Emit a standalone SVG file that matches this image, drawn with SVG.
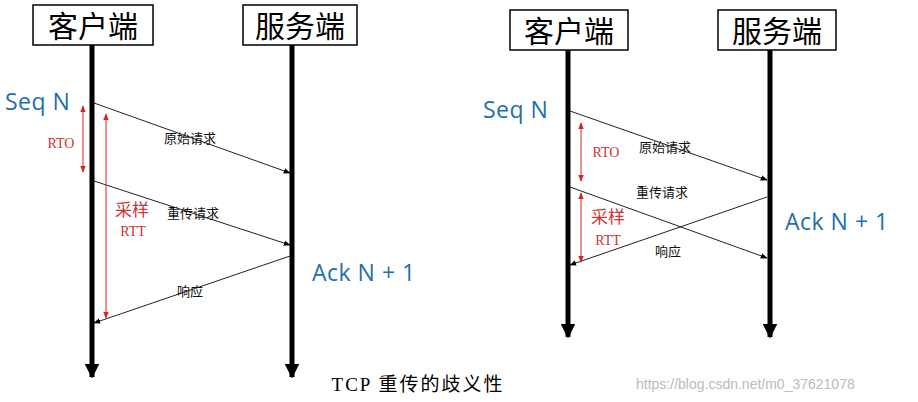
<svg xmlns="http://www.w3.org/2000/svg" width="918" height="402" viewBox="0 0 918 402">
<style>
.box{fill:#fff;stroke:#000;stroke-width:1.5}
.h{font-family:"Noto Sans CJK SC",sans-serif;font-size:30px;text-anchor:middle}
.life{stroke:#000;stroke-width:5}
.msg{stroke:#222;stroke-width:1;fill:none}
.red{stroke:#d22;stroke-width:1;fill:none}
.lab{font-family:"Noto Sans CJK SC",sans-serif;font-size:13px;text-anchor:middle;fill:#111}
.blue{font-family:"Open Sans","Noto Sans",sans-serif;font-size:23px;fill:#1d6fae;letter-spacing:0.5px}
.rt{font-family:"Liberation Serif","Noto Sans CJK SC",serif;font-size:14px;fill:#c33;text-anchor:middle}
.rtc{font-family:"Noto Sans CJK SC",serif;font-size:17px;fill:#c33;text-anchor:middle}
</style>
<defs>
<marker id="ab" viewBox="0 0 10 10" refX="9" refY="5" markerWidth="7" markerHeight="7" orient="auto"><path d="M0,1 L10,5 L0,9z" fill="#000"/></marker>
<marker id="big" viewBox="0 0 10 10" refX="9" refY="5" markerWidth="3" markerHeight="3" orient="auto"><path d="M0,0 L10,5 L0,10z" fill="#000"/></marker>
<marker id="rd" viewBox="0 0 10 10" refX="9" refY="5" markerWidth="7" markerHeight="7" orient="auto-start-reverse"><path d="M0,1 L10,5 L0,9z" fill="#d22"/></marker>
</defs>
<rect width="918" height="402" fill="#fff"/>
<g id="lifelines">
<line class="life" x1="92" y1="45" x2="92" y2="377" marker-end="url(#big)"/>
<line class="life" x1="292" y1="45" x2="292" y2="377" marker-end="url(#big)"/>
<line class="life" x1="568" y1="50" x2="568" y2="337" marker-end="url(#big)"/>
<line class="life" x1="770" y1="50" x2="770" y2="337" marker-end="url(#big)"/>
</g>
<g id="client1"><rect class="box" x="33" y="5" width="120" height="40"/><text class="h" x="93" y="37">客户端</text></g>
<g id="server1"><rect class="box" x="243" y="5" width="114" height="40"/><text class="h" x="300" y="37">服务端</text></g>
<g id="client2"><rect class="box" x="510" y="10" width="118" height="40"/><text class="h" x="569" y="42">客户端</text></g>
<g id="server2"><rect class="box" x="718" y="10" width="118" height="40"/><text class="h" x="777" y="42">服务端</text></g>
<g id="connectors">
<line class="msg" x1="94" y1="103" x2="290" y2="173" marker-end="url(#ab)"/>
<line class="msg" x1="94" y1="181" x2="290" y2="245" marker-end="url(#ab)"/>
<line class="msg" x1="290" y1="256" x2="94" y2="323" marker-end="url(#ab)"/>
<line class="red" x1="83" y1="106" x2="83" y2="172" marker-start="url(#rd)" marker-end="url(#rd)"/>
<line class="red" x1="106" y1="114" x2="106" y2="318" marker-start="url(#rd)" marker-end="url(#rd)"/>
<line class="msg" x1="570" y1="111" x2="767" y2="180" marker-end="url(#ab)"/>
<line class="msg" x1="570" y1="187" x2="767" y2="258" marker-end="url(#ab)"/>
<line class="msg" x1="767" y1="197" x2="570" y2="265" marker-end="url(#ab)"/>
<line class="red" x1="581" y1="123" x2="581" y2="181" marker-start="url(#rd)" marker-end="url(#rd)"/>
<line class="red" x1="581" y1="193" x2="581" y2="262" marker-start="url(#rd)" marker-end="url(#rd)"/>
</g>
<g id="labels">
<text class="blue" x="5" y="110">Seq N</text>
<text class="blue" x="312" y="281">Ack N + 1</text>
<text class="blue" x="483" y="118">Seq N</text>
<text class="blue" x="785" y="230">Ack N + 1</text>
<text class="rt" x="61" y="148">RTO</text>
<text class="rtc" x="132" y="216">采样</text>
<text class="rt" x="133" y="236">RTT</text>
<text class="lab" x="190" y="143">原始请求</text>
<text class="lab" x="193" y="218">重传请求</text>
<text class="lab" x="190" y="296">响应</text>
<text class="rt" x="606" y="157">RTO</text>
<text class="rtc" x="608" y="223">采样</text>
<text class="rt" x="608" y="245">RTT</text>
<text class="lab" x="665" y="152">原始请求</text>
<text class="lab" x="662" y="197">重传请求</text>
<text class="lab" x="668" y="256">响应</text>
<text x="418" y="391" font-family="Liberation Serif,Noto Sans CJK SC,serif" font-size="19" letter-spacing="2" text-anchor="middle">TCP 重传的歧义性</text>
<text x="636" y="389" font-family="Liberation Sans,sans-serif" font-size="14" fill="#bbb">https://blog.csdn.net/m0_37621078</text>
</g>
</svg>
